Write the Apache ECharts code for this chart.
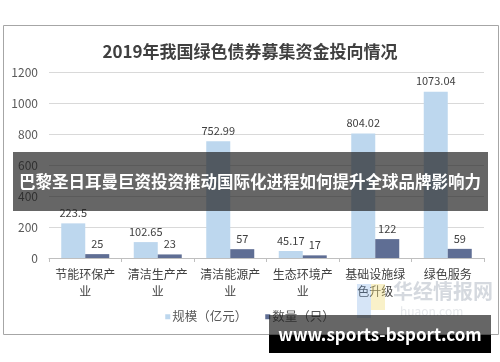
<!DOCTYPE html>
<html><head><meta charset="utf-8">
<script src="https://cdn.jsdelivr.net/npm/echarts@6/dist/echarts.min.js"></script>
<style>html,body{margin:0;padding:0;background:#fff}#c{width:500px;height:362px}</style>
</head><body><div id="c"></div>
<script>
const titleText = '2019年我国绿色债券募集资金投向情况';
const categories = ['节能环保产业','清洁生产产业','清洁能源产业','生态环境产业','基础设施绿色升级','绿色服务'];
const scaleValues = [223.5, 102.65, 752.99, 45.17, 804.02, 1073.04];
const countValues = [25, 23, 57, 17, 122, 59];
const seriesNames = ['规模（亿元）','数量（只）'];
const bannerText = '巴黎圣日耳曼巨资投资推动国际化进程如何提升全球品牌影响力';
const siteText = 'www.sports-bsport.com';

const chart = echarts.init(document.getElementById('c'), null, {renderer:'canvas'});
const font = '"Noto Sans CJK SC", "Noto Sans", sans-serif';
chart.setOption({
  animation:false,
  backgroundColor:'#fff',
  title:{text:titleText,left:'center',top:38,textStyle:{fontFamily:font,fontSize:17,fontWeight:'bold',color:'#404040'}},
  grid:{left:49,right:16,top:72,bottom:104},
  legend:{bottom:34,left:'center',itemWidth:5,itemHeight:5,itemGap:18,icon:'rect',
    textStyle:{fontFamily:font,fontSize:12.5,color:'#595959',padding:[0,0,0,-3]},data:seriesNames},
  xAxis:{type:'category',data:categories,
    axisLine:{lineStyle:{color:'#bfbfbf'}},
    axisTick:{show:true,length:4,lineStyle:{color:'#bfbfbf'}},
    axisLabel:{fontFamily:font,fontSize:12,color:'#404040',margin:8,lineHeight:17,interval:0,
      formatter:v=>v.length>5?v.slice(0,5)+'\n'+v.slice(5):v}},
  yAxis:{type:'value',min:0,max:1200,interval:200,
    axisLine:{show:false},axisTick:{show:false},
    splitLine:{lineStyle:{color:'#d9d9d9'}},
    axisLabel:{fontFamily:font,fontSize:12,color:'#595959',margin:11,formatter:v=>String(v)}},
  series:[
    {name:seriesNames[0],type:'bar',data:scaleValues,barWidth:24,barGap:'0%',
     itemStyle:{color:'#BDD7EE'},
     label:{show:true,position:'top',distance:5,fontFamily:font,fontSize:11,color:'#404040'}},
    {name:seriesNames[1],type:'bar',data:countValues,barWidth:24,
     itemStyle:{color:'#5F6E94'},
     label:{show:true,position:'top',distance:5,fontFamily:font,fontSize:11,color:'#404040'}}
  ],
  graphic:[
    {type:'rect',shape:{x:3.5,y:25.5,width:495,height:309},style:{fill:'none',stroke:'#a6a6a6',lineWidth:1},silent:true,z:-1},
    {type:'rect',shape:{x:357,y:284,width:14,height:34},style:{fill:'rgba(120,170,230,0.3)'},z:50},
    {type:'rect',shape:{x:371,y:284,width:14,height:26},style:{fill:'rgba(240,220,120,0.4)'},z:50},
    {type:'text',left:393,top:281,style:{text:'华经情报网',font:'bold 20px '+font,fill:'rgba(150,160,175,0.4)'},z:50},
    {type:'text',left:400,top:305,style:{text:'huaon.com',font:'12px '+font,fill:'rgba(170,175,185,0.3)'},z:50},
    {type:'rect',shape:{x:13,y:152,width:475,height:59},style:{fill:'rgba(30,30,30,0.68)'},z:100},
    {type:'text',x:250,y:182,style:{text:bannerText,font:'bold 16.5px '+font,fill:'#fff',textAlign:'center',textVerticalAlign:'middle'},z:101},
    {type:'rect',shape:{x:269,y:315,width:222,height:20},style:{fill:'rgba(30,30,30,0.68)'},z:100},
    {type:'rect',shape:{x:269,y:335,width:222,height:18},style:{fill:'#000'},z:100},
    {type:'text',x:380,y:335,style:{text:siteText,font:'bold 17px '+font,fill:'#fff',textAlign:'center',textVerticalAlign:'middle'},z:101}
  ]
});
</script></body></html>
